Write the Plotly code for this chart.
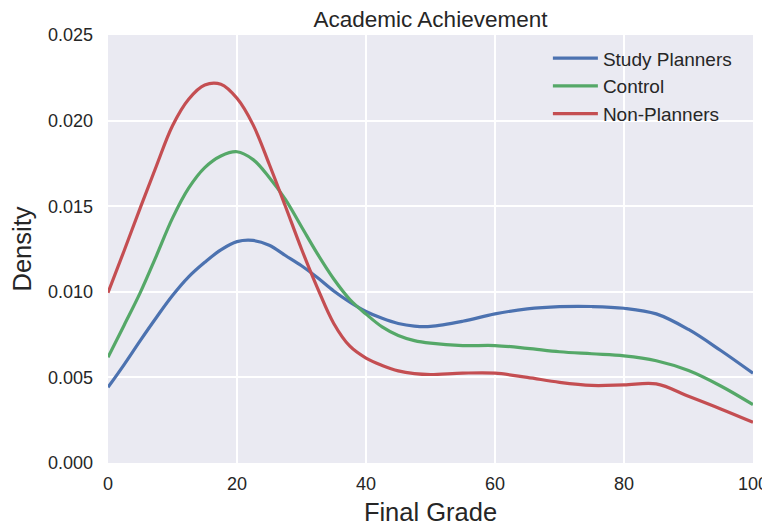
import plotly.graph_objects as go

grades = [0, 2.5, 5, 7.5, 10, 12.5, 15, 17.5, 20, 22.5, 25, 27.5, 30, 32.5, 35, 37.5, 40, 42.5, 45, 47.5,
          50, 55, 60, 65, 70, 75, 80, 85, 90, 95, 100]

study_planners = [0.00442, 0.00575, 0.00715, 0.00850, 0.00978, 0.01087, 0.01172, 0.01245, 0.01293, 0.01300,
                  0.01272, 0.01212, 0.01152, 0.01082, 0.01005, 0.00940, 0.00885, 0.00845, 0.00815, 0.00800,
                  0.00798, 0.00828, 0.00871, 0.00900, 0.00913, 0.00914, 0.00904, 0.00871, 0.00780, 0.00657,
                  0.00524]
control = [0.00617, 0.00805, 0.00995, 0.01210, 0.01430, 0.01605, 0.01725, 0.01793, 0.01818, 0.01772,
           0.01668, 0.01540, 0.01380, 0.01220, 0.01075, 0.00955, 0.00870, 0.00795, 0.00745, 0.00715,
           0.00700, 0.00686, 0.00686, 0.00670, 0.00650, 0.00638, 0.00626, 0.00597, 0.00540, 0.00450,
           0.00341]
non_planners = [0.00995, 0.01240, 0.01490, 0.01735, 0.01970, 0.02125, 0.02208, 0.02212, 0.02130, 0.01975,
                0.01745, 0.01500, 0.01250, 0.01020, 0.00815, 0.00682, 0.00613, 0.00570, 0.00538, 0.00522,
                0.00517, 0.00525, 0.00525, 0.00500, 0.00471, 0.00453, 0.00456, 0.00462, 0.00390, 0.00316,
                0.00238]

series = [("Study Planners", study_planners, "#4C72B0"),
          ("Control", control, "#55A868"),
          ("Non-Planners", non_planners, "#C44E52")]

x_ticks = [0, 20, 40, 60, 80, 100]
y_ticks = [0.0, 0.005, 0.010, 0.015, 0.020, 0.025]

fig = go.Figure()
for name, vals, color in series:
    fig.add_trace(go.Scatter(x=grades, y=vals, mode="lines", name=name,
                             line=dict(color=color, width=3.2, shape="spline", smoothing=1.0)))

font_family = "Liberation Sans, Arial, sans-serif"
fig.update_layout(
    width=762, height=518,
    margin=dict(l=100, r=17, t=27, b=63),
    paper_bgcolor="white",
    plot_bgcolor="#EAEAF2",
    font=dict(family=font_family, color="#262626", size=18),
    title=dict(text="Academic Achievement", x=0.5, xref="paper", xanchor="center",
               y=1 - 11.5 / 518, yref="container", yanchor="middle",
               font=dict(size=22.5, color="#262626")),
    showlegend=True,
    legend=dict(x=0.682, y=0.99, xanchor="left", yanchor="top", bgcolor="rgba(0,0,0,0)",
                font=dict(size=19, color="#262626"), tracegroupgap=0, itemwidth=45),
    xaxis=dict(range=[0, 100], tickvals=x_ticks, ticktext=[str(v) for v in x_ticks],
               showgrid=True, gridcolor="white", gridwidth=2, zeroline=False,
               showline=False, ticks="", ticklabelstandoff=8, automargin=False,
               tickfont=dict(size=18),
               title=dict(text="Final Grade", font=dict(size=25.5), standoff=13)),
    yaxis=dict(range=[0, 0.025], tickvals=y_ticks, ticktext=["%.3f" % v for v in y_ticks],
               showgrid=True, gridcolor="white", gridwidth=2, zeroline=False,
               showline=False, ticks="", ticklabelstandoff=14, automargin=False,
               tickfont=dict(size=18),
               title=dict(text="Density", font=dict(size=25.5), standoff=10)),
)

fig.write_html("out.html")
